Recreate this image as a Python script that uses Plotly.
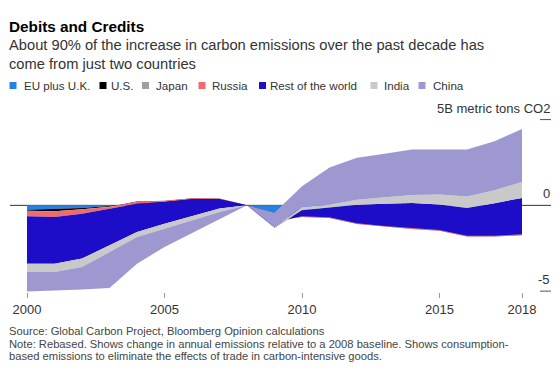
import plotly.graph_objects as go

# ---------------- data (change vs 2008, billion metric tons CO2) ----------------
years = list(range(2000, 2019))
series_names = ["EU plus U.K.", "U.S.", "Japan", "Russia", "Rest of the world", "India", "China"]
eu =     [-0.25, -0.22, -0.15, -0.04, 0.10, 0.12, 0.20, 0.20, 0, -0.43, -0.20, -0.30, -0.45, -0.60, -0.75, -0.75, -0.80, -0.80, -0.78]
us =     [-0.07, -0.12, -0.07, -0.04, 0.12, 0.13, 0.20, 0.18, 0, -0.35, -0.38, -0.34, -0.54, -0.55, -0.53, -0.63, -0.90, -0.90, -0.84]
japan =  [-0.01, -0.01, -0.01, -0.01, 0.01, 0.02, 0.02, 0.02, 0, -0.10, -0.10, -0.10, -0.10, -0.10, -0.10, -0.10, -0.12, -0.12, -0.12]
russia = [-0.31, -0.33, -0.26, -0.10, -0.13, -0.08, -0.07, -0.05, 0, -0.10, 0.04, 0.04, 0.04, 0.04, 0.04, 0.04, 0.05, 0.05, 0.05]
rest =   [-2.76, -2.72, -2.61, -2.16, -1.66, -1.26, -0.97, -0.54, 0, -0.33, 0.35, 0.58, 1.08, 1.31, 1.48, 1.49, 1.61, 1.90, 2.12]
india =  [-0.49, -0.49, -0.50, -0.37, -0.29, -0.29, -0.25, -0.20, 0, 0.07, 0.19, 0.15, 0.30, 0.35, 0.46, 0.58, 0.68, 0.75, 0.93]
china =  [-1.13, -1.09, -1.30, -2.10, -1.55, -1.07, -0.74, -0.41, 0, 0.81, 1.22, 2.17, 2.44, 2.56, 2.65, 2.63, 2.74, 2.86, 3.09]

x_tickvals = [2000, 2005, 2010, 2015, 2018]
x_ticktext = ["2000", "2005", "2010", "2015", "2018"]
y_ticks = [5, 0, -5]
y_ticktext = ["5B metric tons CO2", "0", "-5"]

colors = ["#2680e6", "#000000", "#a0a0a0", "#f06a70", "#1d0dc8", "#c9c9c9", "#9e98d0"]

title = "Debits and Credits"
subtitle1 = "About 90% of the increase in carbon emissions over the past decade has"
subtitle2 = "come from just two countries"
foot1 = "Source: Global Carbon Project, Bloomberg Opinion calculations"
foot2 = "Note: Rebased. Shows change in annual emissions relative to a 2008 baseline. Shows consumption-"
foot3 = "based emissions to eliminate the effects of trade in carbon-intensive goods."

# ---------------- layout geometry ----------------
W, H = 560, 376
ML, MR, MT, MB = 27, 38, 111, 84
PW, PH = W - ML - MR, H - MT - MB
FONT = "Liberation Sans, Arial, sans-serif"


def px(xp):
    return (xp - ML) / PW


def py(yp):
    return (H - MB - yp) / PH


fig = go.Figure()
all_series = [eu, us, japan, russia, rest, india, china]
for name, vals, col in zip(series_names, all_series, colors):
    fig.add_trace(go.Scatter(
        x=years, y=vals, name=name, mode="lines",
        stackgroup="one", line=dict(width=0, color=col),
        fillcolor=col, hoverinfo="skip", showlegend=False,
    ))

shapes = []
# zero baseline (drawn beneath areas)
shapes.append(dict(type="line", xref="paper", yref="y", x0=px(10), x1=px(551),
                   y0=0, y1=0, line=dict(color="#333333", width=1), layer="below"))
# right-hand tick dashes
for v in y_ticks:
    if v != 0:
        shapes.append(dict(type="line", xref="paper", yref="y", x0=px(540), x1=px(551),
                           y0=v, y1=v, line=dict(color="#555555", width=1), layer="below"))

annotations = []
for v, t in zip(y_ticks, y_ticktext):
    annotations.append(dict(text=t, xref="paper", yref="y", x=px(552), y=v,
                            xanchor="right", yanchor="middle", yshift=11.5,
                            showarrow=False, font=dict(family=FONT, size=13, color="#333333")))

annotations.append(dict(text="<b>" + title + "</b>", xref="paper", yref="paper",
                        x=px(7), y=py(26), xanchor="left", yanchor="middle", showarrow=False,
                        font=dict(family=FONT, size=15.3, color="#000000")))
for t, yc in [(subtitle1, 45), (subtitle2, 64)]:
    annotations.append(dict(text=t, xref="paper", yref="paper", x=px(7), y=py(yc),
                            xanchor="left", yanchor="middle", showarrow=False,
                            font=dict(family=FONT, size=14.7, color="#333333")))

# legend: squares + labels
legend_sq_x = [9.5, 99.5, 142, 198.5, 259, 370.5, 418.5]
legend_tx_x = [22, 108.5, 153.5, 210, 268, 382, 430.5]
for name, col, sx, tx in zip(series_names, colors, legend_sq_x, legend_tx_x):
    shapes.append(dict(type="rect", xref="paper", yref="paper", x0=px(sx), x1=px(sx + 7),
                       y0=py(89), y1=py(82), fillcolor=col, line=dict(width=0)))
    annotations.append(dict(text=name, xref="paper", yref="paper", x=px(tx), y=py(85.5),
                            xanchor="left", yanchor="middle", showarrow=False,
                            font=dict(family=FONT, size=11.6, color="#333333")))

for t, yc in [(foot1, 331), (foot2, 343.5), (foot3, 355.5)]:
    annotations.append(dict(text=t, xref="paper", yref="paper", x=px(7), y=py(yc),
                            xanchor="left", yanchor="middle", showarrow=False,
                            font=dict(family=FONT, size=11.2, color="#444444")))

fig.update_layout(
    width=W, height=H,
    margin=dict(l=ML, r=MR, t=MT, b=MB, pad=0),
    paper_bgcolor="white", plot_bgcolor="white",
    showlegend=False,
    shapes=shapes, annotations=annotations,
    xaxis=dict(range=[2000, 2018], tickvals=x_tickvals, ticktext=x_ticktext,
               ticks="outside", ticklen=5, tickcolor="#999999", tickwidth=1,
               showgrid=False, zeroline=False, showline=False,
               ticklabelstandoff=0,
               tickfont=dict(family=FONT, size=13, color="#333333"), fixedrange=True),
    yaxis=dict(range=[-5.05, 5.5], visible=False, showgrid=False, zeroline=False,
               fixedrange=True),
)

fig.write_html("out.html", config={"displayModeBar": False},
               post_script="document.body.style.margin='0';")
